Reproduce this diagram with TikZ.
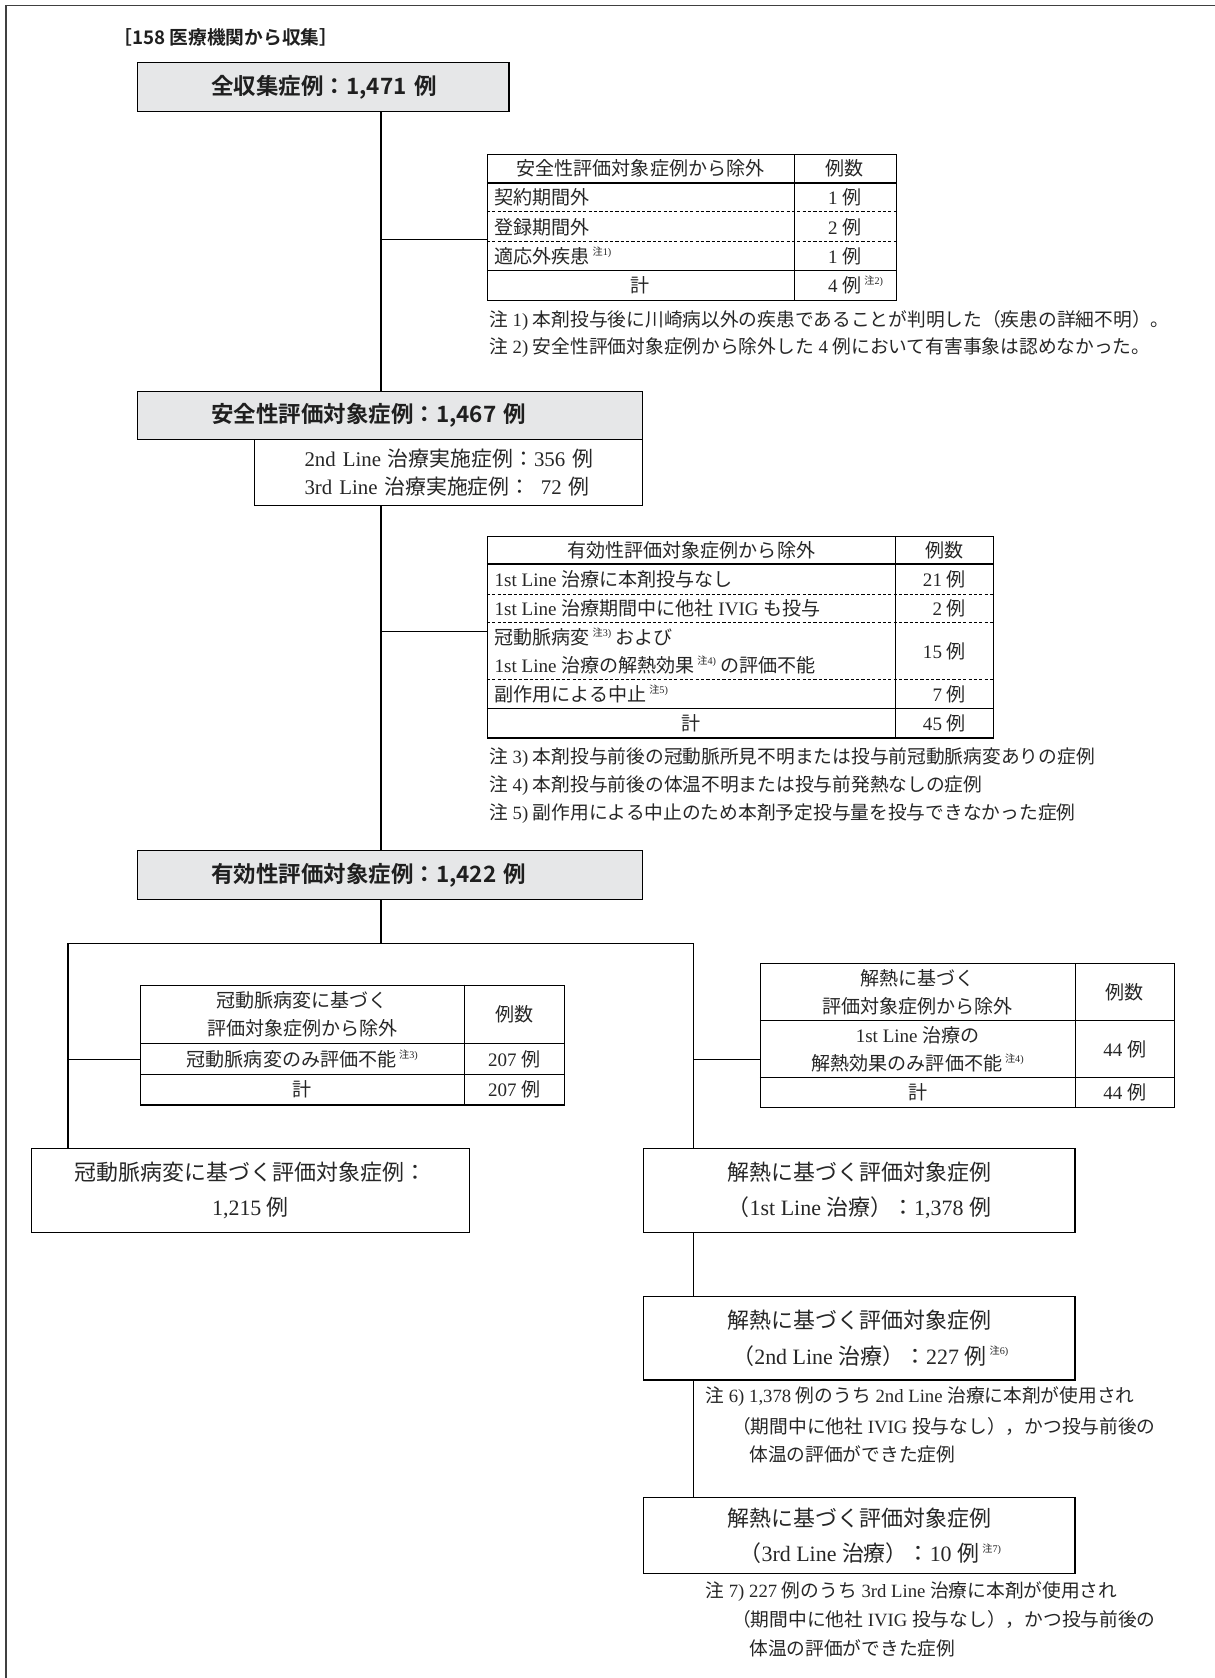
\documentclass[tikz,border=0pt]{standalone}
\usepackage{fontspec}
\setmainfont{Noto Sans CJK JP}
\newfontfamily\LS{Liberation Serif}
\newfontfamily\JB{Noto Sans CJK JP Bold}
\definecolor{boxgray}{RGB}{230,231,232}
\newcommand\chu[1]{\hspace{0.15em}\raisebox{0.42em}{\fontsize{9.5}{9.5}\selectfont 注{\LS #1)}}}
\newcommand\rei[1]{{\LS #1 }例}
\begin{document}
\begin{tikzpicture}[x=1pt,y=-1pt,
  conn/.style={line width=1.1pt},
  graybox/.style={draw, line width=1.1pt, fill=boxgray, inner sep=0pt, align=left, anchor=north west, text=black!88, font=\JB\fontsize{21}{25}\selectfont},
  wbox/.style={draw, line width=1.1pt, fill=white, inner sep=0pt, align=center, anchor=north west, text=black!85, font=\fontsize{20.5}{33}\selectfont},
  tframe/.style={draw, line width=1.1pt, inner sep=0pt, anchor=north west},
  cell/.style={inner sep=0pt, align=center, text=black!85, font=\fontsize{17.8}{26}\selectfont},
  lcell/.style={cell, anchor=west, align=left},
  note/.style={inner sep=0pt, anchor=west, align=left, text=black!85, font=\fontsize{17.5}{26}\selectfont},
  rowline/.style={line width=1pt},
  dline/.style={line width=0.8pt, dash pattern=on 3pt off 2pt}
]
\useasboundingbox (0,0) rectangle (1135,1568);
% frame
\draw[line width=1.5pt, black!75] (5.5,1568) -- (5.5,5.3) -- (1135,5.3);

% title
\node[anchor=west, inner sep=0pt, text=black!88, font=\JB\fontsize{17.5}{20}\selectfont] (src) at (106,35) {［158 医療機関から収集］};

% main boxes
\node[graybox, text width=347pt, minimum height=46pt] (all) at (128,58) {\hspace*{69pt}全収集症例：1,471 例};
\node[graybox, text width=472pt, minimum height=45pt] (safe) at (128,365) {\hspace*{69pt}安全性評価対象症例：1,467 例};
\node[wbox, text width=363pt, minimum height=62pt, align=left, font=\fontsize{19.5}{27}\selectfont] (sub) at (237,410)
  {\hspace*{47pt}{\LS 2nd Line }治療実施症例：{\LS 356 }例\\\hspace*{47pt}{\LS 3rd Line }治療実施症例：{\LS\phantom{3}72 }例};
\node[graybox, text width=472pt, minimum height=46pt] (eff) at (128,794) {\hspace*{69pt}有効性評価対象症例：1,422 例};

% spine
\coordinate (sx) at (356,0);
\coordinate (b1) at (356,224);
\coordinate (b2) at (356,590);
\coordinate (split) at (356,882);
\coordinate (lx) at (63.5,882);
\coordinate (rx) at (648,882);
\coordinate (b3) at (63.5,990);
\coordinate (b4) at (648,990);

% ---------- table 1 ----------
\node[tframe, minimum width=382pt, minimum height=136pt] (t1) at (455,144) {};
\draw[rowline] (742,144) -- (742,280);
\draw[rowline] (455,171) -- (837,171);
\draw[dline] (455,198) -- (837,198);
\draw[dline] (455,226) -- (837,226);
\draw[rowline] (455,253) -- (837,253);
\node[cell] (t1h1) at (598.5,157.5) {安全性評価対象症例から除外};
\node[cell] (t1h2) at (789.5,157.5) {例数};
\node[lcell] (t1a1) at (462,184.5) {契約期間外};
\node[cell] (t1a2) at (789.5,184.5) {\rei{1}};
\node[lcell] (t1b1) at (462,212) {登録期間外};
\node[cell] (t1b2) at (789.5,212) {\rei{2}};
\node[lcell] (t1c1) at (462,239.5) {適応外疾患\chu{1}};
\node[cell] (t1c2) at (789.5,239.5) {\rei{1}};
\node[cell] (t1d1) at (598.5,266.5) {計};
\node[cell] (t1d2) at (789.5,266.5) {\rei{4}\rlap{\chu{2}}};
\node[note] (n1) at (457,299) {注{\LS~1) }本剤投与後に川崎病以外の疾患であることが判明した（疾患の詳細不明）。};
\node[note] (n2) at (457,325) {注{\LS~2) }安全性評価対象症例から除外した{\LS~4 }例において有害事象は認めなかった。};

% ---------- table 2 ----------
\node[tframe, minimum width=473pt, minimum height=188pt] (t2) at (455,501) {};
\draw[rowline] (837,501) -- (837,689);
\draw[rowline] (455,527) -- (928,527);
\draw[dline] (455,555) -- (928,555);
\draw[dline] (455,582) -- (928,582);
\draw[dline] (455,635) -- (928,635);
\draw[rowline] (455,662) -- (928,662);
\node[cell] (t2h1) at (646,514) {有効性評価対象症例から除外};
\node[cell] (t2h2) at (882.5,514) {例数};
\node[lcell] (t2a1) at (462,541) {{\LS 1st Line }治療に本剤投与なし};
\node[cell] (t2a2) at (882.5,541) {\rei{21}};
\node[lcell] (t2b1) at (462,568.5) {{\LS 1st Line }治療期間中に他社{\LS~IVIG }も投与};
\node[cell] (t2b2) at (882.5,568.5) {\rei{\phantom{1}2}};
\node[lcell] (t2c1) at (462,608.5) {冠動脈病変\chu{3} および\\{\LS 1st Line }治療の解熱効果\chu{4} の評価不能};
\node[cell] (t2c2) at (882.5,608.5) {\rei{15}};
\node[lcell] (t2d1) at (462,648.5) {副作用による中止\chu{5}};
\node[cell] (t2d2) at (882.5,648.5) {\rei{\phantom{1}7}};
\node[cell] (t2e1) at (646,675.5) {計};
\node[cell] (t2e2) at (882.5,675.5) {\rei{45}};
\node[note] (n3) at (457,708) {注{\LS~3) }本剤投与前後の冠動脈所見不明または投与前冠動脈病変ありの症例};
\node[note] (n4) at (457,734) {注{\LS~4) }本剤投与前後の体温不明または投与前発熱なしの症例};
\node[note] (n5) at (457,760) {注{\LS~5) }副作用による中止のため本剤予定投与量を投与できなかった症例};

% ---------- table 3 ----------
\node[tframe, minimum width=396pt, minimum height=112pt] (t3) at (131,920) {};
\draw[rowline] (434,920) -- (434,1032);
\draw[rowline] (131,975) -- (527,975);
\draw[rowline] (131,1004) -- (527,1004);
\node[cell] (t3h1) at (282.5,947.5) {冠動脈病変に基づく\\評価対象症例から除外};
\node[cell] (t3h2) at (480.5,947.5) {例数};
\node[cell] (t3a1) at (282.5,989.5) {冠動脈病変のみ評価不能\chu{3}};
\node[cell] (t3a2) at (480.5,989.5) {\rei{207}};
\node[cell] (t3b1) at (282.5,1018) {計};
\node[cell] (t3b2) at (480.5,1018) {\rei{207}};

% ---------- table 4 ----------
\node[tframe, minimum width=387pt, minimum height=134pt] (t4) at (710,900) {};
\draw[rowline] (1005,900) -- (1005,1034);
\draw[rowline] (710,954) -- (1097,954);
\draw[rowline] (710,1007) -- (1097,1007);
\node[cell] (t4h1) at (857.5,927) {解熱に基づく\\評価対象症例から除外};
\node[cell] (t4h2) at (1051,927) {例数};
\node[cell] (t4a1) at (857.5,980.5) {{\LS 1st Line }治療の\\解熱効果のみ評価不能\chu{4}};
\node[cell] (t4a2) at (1051,980.5) {\rei{44}};
\node[cell] (t4b1) at (857.5,1020.5) {計};
\node[cell] (t4b2) at (1051,1020.5) {\rei{44}};

% ---------- final boxes ----------
\node[wbox, minimum width=409pt, minimum height=78pt] (lbox) at (29,1073) {冠動脈病変に基づく評価対象症例：\\{\LS 1,215 }例};
\node[wbox, minimum width=403pt, minimum height=78pt] (abox) at (601,1073) {解熱に基づく評価対象症例\\（{\LS 1st Line }治療）：{\LS 1,378 }例};
\node[wbox, minimum width=403pt, minimum height=78pt] (bbox) at (601,1211) {解熱に基づく評価対象症例\\（{\LS 2nd Line }治療）：{\LS 227 }例\rlap{\chu{6}}};
\node[wbox, minimum width=403pt, minimum height=71pt] (cbox) at (601,1399) {解熱に基づく評価対象症例\\（{\LS 3rd Line }治療）：{\LS 10 }例\rlap{\chu{7}}};

\node[note] (n6a) at (659,1305) {注{\LS~6) 1,378 }例のうち{\LS~2nd Line }治療に本剤が使用され};
\node[note] (n6b) at (684,1333) {（期間中に他社{\LS~IVIG }投与なし），かつ投与前後の};
\node[note] (n6c) at (700,1359) {体温の評価ができた症例};
\node[note] (n7a) at (659,1487) {注{\LS~7) 227 }例のうち{\LS~3rd Line }治療に本剤が使用され};
\node[note] (n7b) at (684,1513) {（期間中に他社{\LS~IVIG }投与なし），かつ投与前後の};
\node[note] (n7c) at (700,1540) {体温の評価ができた症例};

% ---------- connectors ----------
\draw[conn] (all.south -| sx) -- (safe.north -| sx);
\draw[conn] (sub.south -| sx) -- (eff.north -| sx);
\draw[conn] (b1) -- (b1 -| t1.west);
\draw[conn] (b2) -- (b2 -| t2.west);
\draw[conn] (eff.south -| sx) -- (split);
\draw[conn] (lbox.north -| lx) -- (lx) -- (rx) -- (abox.north -| rx);
\draw[conn] (b3) -- (b3 -| t3.west);
\draw[conn] (b4) -- (b4 -| t4.west);
\draw[conn] (abox.south -| rx) -- (bbox.north -| rx);
\draw[conn] (bbox.south -| rx) -- (cbox.north -| rx);
\end{tikzpicture}
\end{document}
